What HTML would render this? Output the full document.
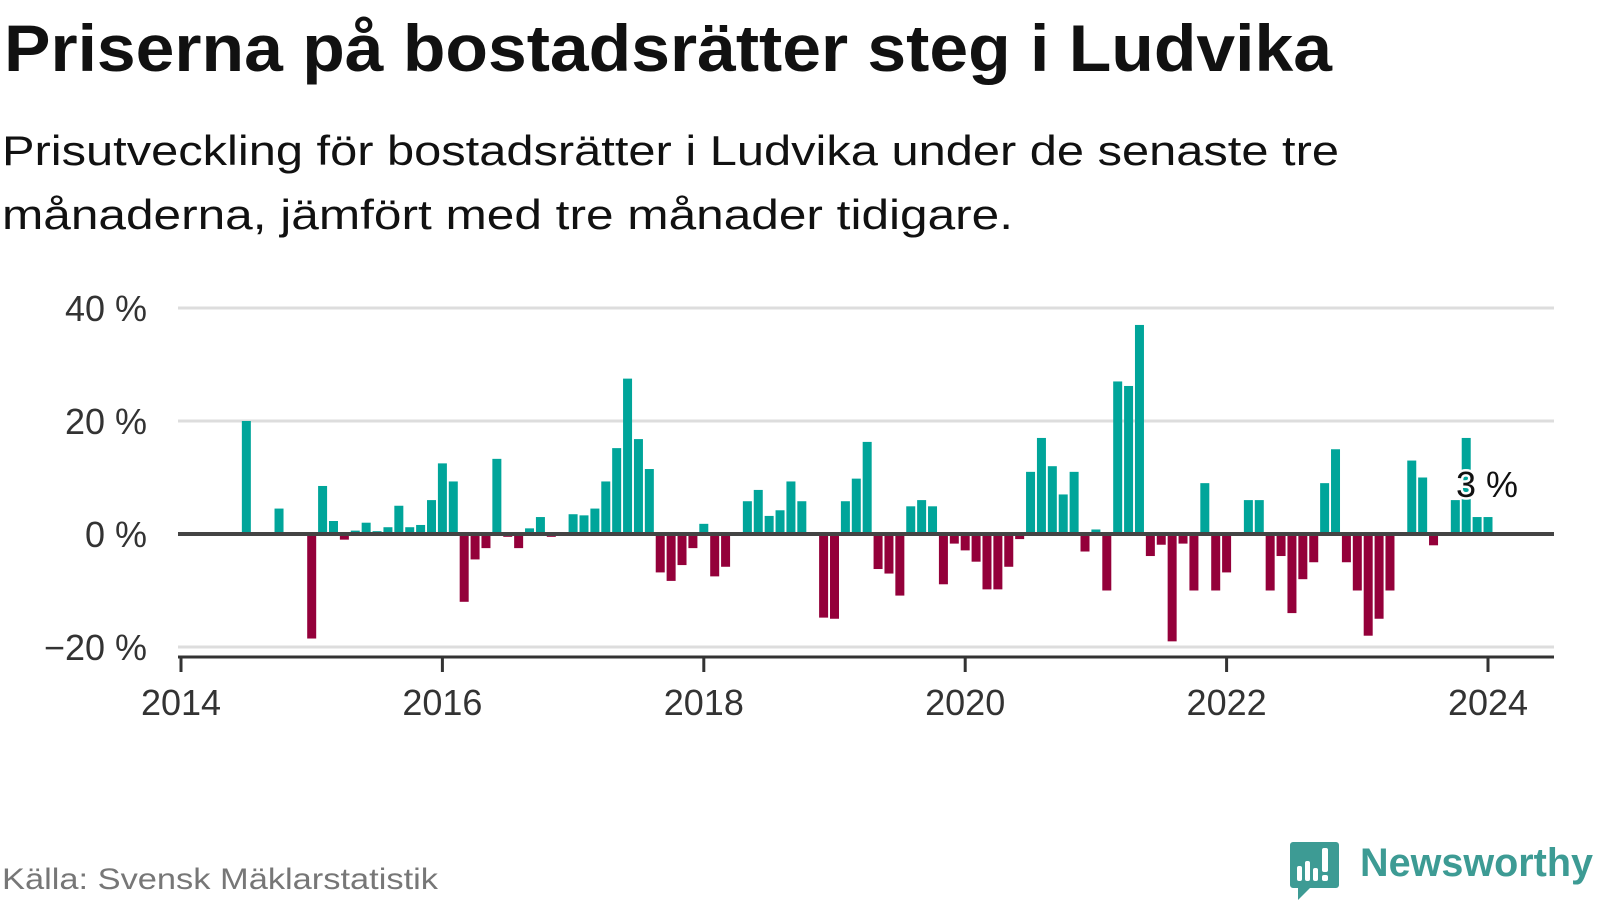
<!DOCTYPE html>
<html><head><meta charset="utf-8"><style>
html,body{margin:0;padding:0;background:#fff;}
svg{display:block;font-family:"Liberation Sans",sans-serif;}
</style></head><body>
<svg id="chart" width="1600" height="900" viewBox="0 0 1600 900" xmlns="http://www.w3.org/2000/svg">
<text x="4" y="71" font-size="66" font-weight="bold" fill="#111" textLength="1328" lengthAdjust="spacingAndGlyphs">Priserna på bostadsrätter steg i Ludvika</text>
<text x="2" y="165" font-size="42" fill="#111" textLength="1337" lengthAdjust="spacingAndGlyphs">Prisutveckling för bostadsrätter i Ludvika under de senaste tre</text>
<text x="2" y="229" font-size="42" fill="#111" textLength="1011" lengthAdjust="spacingAndGlyphs">månaderna, jämfört med tre månader tidigare.</text>
<g id="grid"></g>
<g id="bars"></g>
<g id="axes"></g>
<text x="2" y="889" font-size="30" fill="#777" textLength="436" lengthAdjust="spacingAndGlyphs">Källa: Svensk Mäklarstatistik</text>
<g>
<path d="M1293 842 h43 a3 3 0 0 1 3 3 v40 a3 3 0 0 1 -3 3 h-26 l-12 12 v-12 h-5 a3 3 0 0 1 -3 -3 v-40 a3 3 0 0 1 3 -3z" fill="#3d9b94"/>
<rect x="1297" y="866" width="5" height="15" rx="2" fill="#fff"/>
<rect x="1305" y="861" width="5" height="20" rx="2" fill="#fff"/>
<rect x="1313" y="868" width="5" height="13" rx="2" fill="#fff"/>
<rect x="1322" y="848" width="6" height="24" rx="2" fill="#fff"/>
<rect x="1322" y="875" width="6" height="6" rx="2" fill="#fff"/>
<text x="1360" y="876" font-size="40" font-weight="bold" fill="#3d9b94" textLength="233" lengthAdjust="spacingAndGlyphs">Newsworthy</text>
</g>
</svg>
<script>
// monthly values, index 0 = Jan 2014
const startYear = 2014;
const values = [0,0,0,0,0,0,20,0,0,4.5,0,0,
-18.5,8.5,2.3,-1,0.6,2,0.5,1.2,5,1.2,1.6,6,
12.5,9.3,-12,-4.5,-2.5,13.3,-0.5,-2.5,1,3,-0.5,0,
3.5,3.3,4.5,9.3,15.2,27.5,16.8,11.5,-6.8,-8.3,-5.5,-2.5,
1.8,-7.5,-5.8,0,5.8,7.8,3.2,4.2,9.3,5.8,0,-14.8,
-15,5.8,9.8,16.3,-6.2,-7,-10.9,4.9,6,4.9,-8.9,-1.7,
-2.9,-4.9,-9.8,-9.8,-5.8,-0.9,11,17,12,7,11,-3.1,
0.8,-10,27,26.2,37,-3.9,-1.9,-19,-1.7,-10,9,-10,
-6.8,0,6,6,-10,-3.9,-14,-8,-5,9,15,-5,
-10,-18,-15,-10,0,13,10,-2,0,6,17,3,
3];
const yTicks = [40,20,0,-20];
const yTickLabels = ["40 %","20 %","0 %","\u221220 %"];
const xTicks = [2014,2016,2018,2020,2022,2024];
const lastLabel = "3 %";

const NS="http://www.w3.org/2000/svg";
const x0=181, pxYear=130.7, pxMonth=pxYear/12;
const xScale=m=>x0+m*pxMonth;
const yScale=v=>534-v*5.65;
const plotL=178, plotR=1554;
function mk(tag,attrs,parent){const e=document.createElementNS(NS,tag);for(const k in attrs)e.setAttribute(k,attrs[k]);parent.appendChild(e);return e;}
const grid=document.getElementById('grid'),bars=document.getElementById('bars'),axes=document.getElementById('axes');
yTicks.forEach((t,i)=>{
  if(t!==0){const l=mk('line',{x1:plotL,x2:plotR,y1:yScale(t),y2:yScale(t),stroke:'#ddd','stroke-width':3},grid);
  
  }
  const tx=mk('text',{x:147,y:yScale(t)+13,'text-anchor':'end','font-size':36,fill:'#333'},axes);
  tx.textContent=yTickLabels[i];
  
  
});
values.forEach((v,i)=>{
  if(v===0)return;
  const y=yScale(Math.max(v,0)),h=Math.abs(yScale(v)-yScale(0));
  const r=mk('rect',{x:xScale(i)-4.5,y:y,width:9,height:h,fill:v>0?'#00a59a':'#94003a'},bars);
  
  
});
const zl=mk('line',{x1:plotL,x2:plotR,y1:yScale(0),y2:yScale(0),stroke:'#444','stroke-width':4},axes);


const ax=mk('line',{x1:plotL,x2:plotR,y1:657,y2:657,stroke:'#333','stroke-width':3},axes);


xTicks.forEach(yr=>{
  const x=xScale((yr-startYear)*12);
  const tk=mk('line',{x1:x,x2:x,y1:656,y2:672,stroke:'#333','stroke-width':3},axes);
  
  
  const tx=mk('text',{x:x,y:715,'text-anchor':'middle','font-size':36,fill:'#333'},axes);
  tx.textContent=yr;
  
  
});
const li=values.length-1;
const lab=mk('text',{x:xScale(li)-1,y:yScale(values[li])-20,'text-anchor':'middle','font-size':36,fill:'#111',stroke:'#fff','stroke-width':5,'paint-order':'stroke'},axes);
lab.textContent=lastLabel;


</script>
</body></html>
